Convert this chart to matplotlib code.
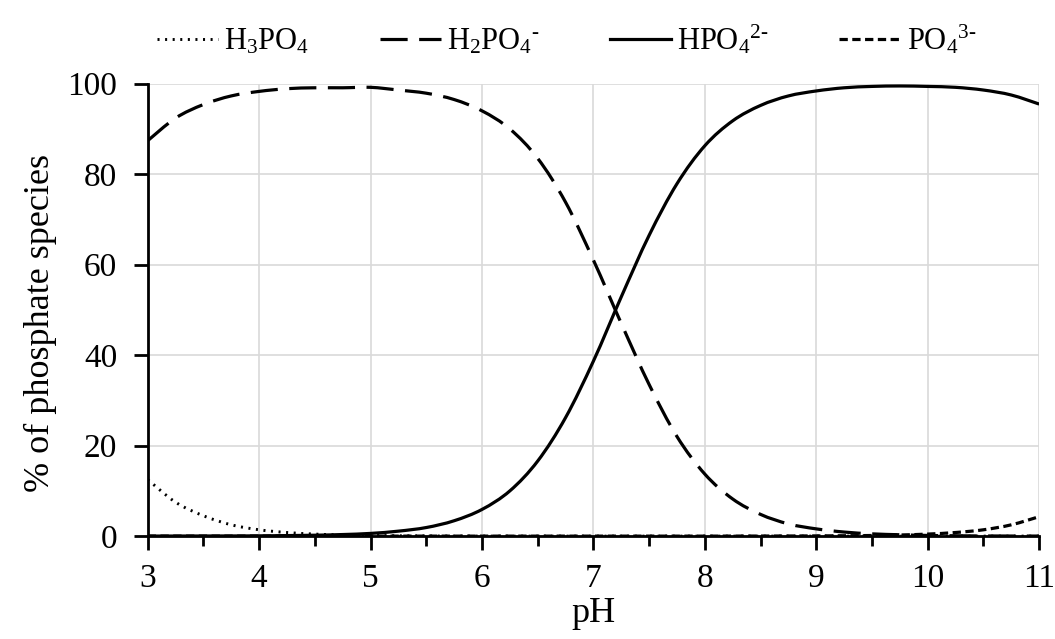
import numpy as np
import matplotlib
matplotlib.use('Agg')
import matplotlib.pyplot as plt
from matplotlib.ticker import MultipleLocator
from matplotlib.path import Path
from matplotlib.patches import PathPatch
from matplotlib.lines import Line2D

plt.rcParams['font.family'] = ['Liberation Serif', 'DejaVu Serif']
plt.rcParams['mathtext.fontset'] = 'custom'
plt.rcParams['mathtext.rm'] = 'Liberation Serif'
plt.rcParams['mathtext.it'] = 'Liberation Serif'

# pH 3..11, step 0.25
ph = np.arange(3, 11.001, 0.25)

h3po4 = [12.5, 7.5, 4.5, 2.5, 1.4, 0.8, 0.45, 0.25, 0.14, 0.08, 0.04, 0.02, 0.01,
         0, 0, 0, 0, 0, 0, 0, 0, 0, 0, 0, 0, 0, 0, 0, 0, 0, 0, 0, 0]
h2po4 = [87.4, 92.4, 95.4, 97.3, 98.3, 98.9, 99.1, 99.1, 99.2, 98.6, 97.9, 96.5,
         94.0, 90.0, 83.5, 73.8, 61.0, 47.0, 33.5, 22.0, 13.7, 8.2, 4.8, 2.7,
         1.6, 0.9, 0.5, 0.3, 0.15, 0.08, 0.04, 0.02, 0.01]
hpo4 = [0.01, 0.02, 0.03, 0.04, 0.06, 0.12, 0.2, 0.35, 0.6, 1.1, 1.9, 3.4,
        5.9, 10.0, 16.6, 26.2, 38.7, 52.9, 66.5, 77.9, 86.3, 91.8, 95.2, 97.3,
        98.4, 99.1, 99.4, 99.5, 99.4, 99.2, 98.6, 97.5, 95.5]
po4 = [0, 0, 0, 0, 0, 0, 0, 0, 0, 0, 0, 0, 0, 0, 0, 0, 0, 0, 0, 0, 0, 0.01,
       0.02, 0.03, 0.05, 0.08, 0.14, 0.25, 0.45, 0.8, 1.4, 2.5, 4.3]

labels = [r'H$_3$PO$_4$', r'H$_2$PO$_4$$^{\text{-}}$', r'HPO$_4$$^{\text{2-}}$',
          r'PO$_4$$^{\text{3-}}$']
styles = [dict(lw=2.1, linestyle=(0, (0.7, 1.9))),
          dict(lw=2.3, linestyle=(0, (8.5, 3.6))),
          dict(lw=2.3, linestyle='-'),
          dict(lw=2.3, linestyle=(0, (2.6, 1.4)))]


def smooth_path(x, y):
    # Excel-style smoothed line: cubic Bezier through every point
    p = np.column_stack([x, y])
    n = len(p)
    verts = [p[0]]
    codes = [Path.MOVETO]
    for i in range(n - 1):
        p0 = p[max(i - 1, 0)]
        p1 = p[i]
        p2 = p[i + 1]
        p3 = p[min(i + 2, n - 1)]
        verts += [p1 + (p2 - p0) / 6, p2 - (p3 - p1) / 6, p2]
        codes += [Path.CURVE4] * 3
    return Path(verts, codes)


fig = plt.figure(figsize=(10.55, 6.39), dpi=100)
ax = fig.add_axes([0.140, 0.161, 0.845, 0.708])

handles = []
for ys, st, lab in zip([h3po4, h2po4, hpo4, po4], styles, labels):
    patch = PathPatch(smooth_path(ph, np.array(ys)), fill=False, edgecolor='black',
                      capstyle='butt', **st)
    ax.add_patch(patch)
    handles.append(Line2D([], [], color='black', label=lab, **st))

ax.set_xlim(3, 11)
ax.set_ylim(0, 100)
ax.xaxis.set_major_locator(MultipleLocator(1))
ax.xaxis.set_minor_locator(MultipleLocator(0.5))
ax.yaxis.set_major_locator(MultipleLocator(20))
ax.grid(True, which='major', color='#d9d9d9', lw=1.2)
ax.set_axisbelow(True)

for s in ['top', 'right']:
    ax.spines[s].set_visible(False)
for s in ['left', 'bottom']:
    ax.spines[s].set_linewidth(2)
ax.tick_params(which='major', direction='out', length=10, width=2, labelsize=24)
ax.tick_params(which='minor', direction='out', length=7, width=2)
ax.tick_params(axis='x', pad=10)
ax.tick_params(axis='y', pad=12)

ax.set_xlabel('pH', fontsize=26, labelpad=2)
ax.set_ylabel('% of phosphate species', fontsize=26)
ax.yaxis.set_label_coords(-0.102, 0.47)

ax.legend(handles=handles, loc='lower center', bbox_to_anchor=(0.47, 1.0), ncol=4,
          frameon=False, fontsize=22, handlelength=2.0, columnspacing=2.3,
          handletextpad=0.2)

fig.savefig('out.png', dpi=100)
